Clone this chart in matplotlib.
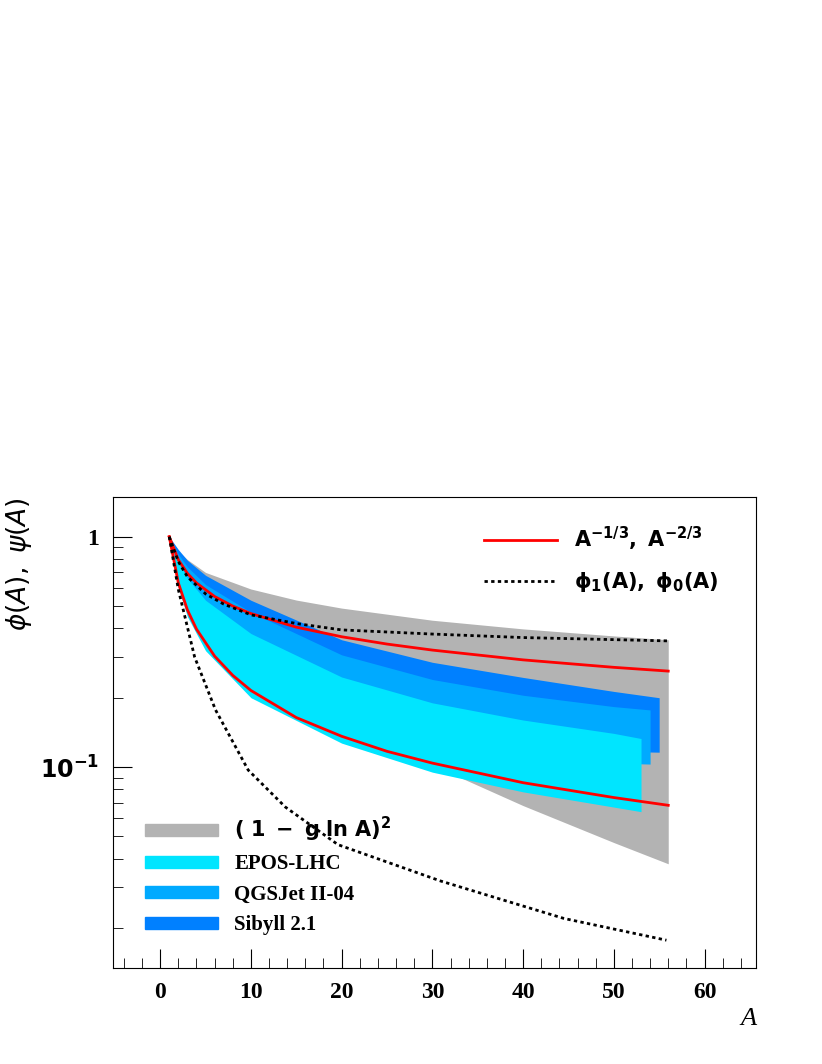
import numpy as np
import matplotlib
matplotlib.use("Agg")
import matplotlib.pyplot as plt
from matplotlib.patches import Patch
from matplotlib.lines import Line2D
from matplotlib.ticker import FixedLocator, NullFormatter, MultipleLocator

# ── data ────────────────────────────────────────────────────
A_pow = [1, 2, 3, 4, 6, 8, 10, 15, 20, 25, 30, 40, 50, 56]
a_m13 = [1, .794, .693, .630, .550, .5, .464, .405, .368, .342, .322, .292, .271, .261]
a_m23 = [1, .630, .481, .397, .303, .25, .215, .164, .136, .117, .104, .0855, .0737, .0682]

A_grey = [1, 2, 3, 5, 10, 15, 20, 30, 40, 50, 56]
grey_hi = [1, .865, .796, .70, .593, .531, .49, .434, .398, .371, .357]
grey_lo = [1, .74, .61, .46, .29, .21, .16, .102, .068, .047, .038]

A_epos = [1, 2, 3, 5, 10, 20, 30, 40, 50, 53]
epos_hi = [1, .78, .66, .53, .38, .246, .19, .16, .14, .133]
epos_lo = [1, .60, .45, .32, .20, .127, .095, .078, .067, .064]

A_qgs = [1, 2, 3, 5, 10, 20, 30, 40, 50, 54]
qgs_hi = [1, .84, .74, .62, .47, .307, .24, .205, .183, .177]
qgs_lo = [1, .62, .47, .34, .21, .14, .115, .107, .104, .103]

A_sib = [1, 2, 3, 5, 10, 20, 30, 40, 50, 55]
sib_hi = [1, .88, .79, .68, .53, .357, .285, .245, .213, .20]
sib_lo = [1, .63, .48, .35, .22, .15, .127, .12, .117, .116]

A_phi1 = [1, 2, 3, 5, 7, 10, 15, 20, 30, 40, 56]
phi1 = [1, .78, .67, .565, .51, .458, .42, .394, .378, .365, .353]

A_phi0 = [1, 2, 3.8, 6.1, 9.7, 13.8, 19.6, 30.9, 44.5, 55.8]
phi0 = [1, .59, .30, .177, .097, .067, .046, .032, .022, .0177]

plt.rcParams["font.family"] = "Liberation Serif"

fig = plt.figure(figsize=(8.22, 10.64), dpi=100)
ax = fig.add_axes([0.1375, 0.0902, 0.7825, 0.4428])

ax.fill_between(A_grey, grey_lo, grey_hi, color="#b3b3b3", lw=0)
ax.fill_between(A_sib, sib_lo, sib_hi, color="#0080ff", lw=0)
ax.fill_between(A_qgs, qgs_lo, qgs_hi, color="#00aaff", lw=0)
ax.fill_between(A_epos, epos_lo, epos_hi, color="#00e5ff", lw=0)

ax.plot(A_pow, a_m13, color="#ff0000", lw=2)
ax.plot(A_pow, a_m23, color="#ff0000", lw=2)
ax.plot(A_phi1, phi1, color="black", lw=2, ls=(0, (1.2, 1.2)))
ax.plot(A_phi0, phi0, color="black", lw=2, ls=(0, (1.2, 1.2)))

ax.set_yscale("log")
ax.set_xlim(-5.2, 65.7)
ax.set_ylim(0.0134, 1.49)

ax.xaxis.set_major_locator(MultipleLocator(10))
ax.xaxis.set_minor_locator(MultipleLocator(2))
ax.set_xticks([0, 10, 20, 30, 40, 50, 60])
ax.set_xticklabels(["0", "10", "20", "30", "40", "50", "60"], fontsize=17, fontweight="bold")
ax.set_yticks([1, 0.1])
ax.set_yticklabels(["1", r"$\mathbf{10^{-1}}$"], fontsize=17, fontweight="bold")
ax.yaxis.set_minor_formatter(NullFormatter())
ax.tick_params(which="both", direction="in", top=False, right=False)
ax.tick_params(which="major", length=14, pad=10)
ax.tick_params(which="minor", length=7)

ax.set_ylabel(r"$\phi(A),\ \psi(A)$", fontsize=19, loc="top")
ax.set_xlabel("A", fontsize=19, style="italic", loc="right")

lines = [Line2D([], [], color="#ff0000", lw=2),
         Line2D([], [], color="black", lw=2, ls=(0, (1.2, 1.2)))]
leg1 = ax.legend(lines, [r"$\mathbf{A^{-1/3},\ A^{-2/3}}$", r"$\mathbf{\phi_1(A),\ \phi_0(A)}$"],
                 loc="upper right", frameon=False, fontsize=15, handlelength=3.5,
                 bbox_to_anchor=(0.97, 0.98), labelspacing=0.8)
ax.add_artist(leg1)

patches = [Patch(color="#b3b3b3"), Patch(color="#00e5ff"),
           Patch(color="#00aaff"), Patch(color="#0080ff")]
ax.legend(patches, [r"$\mathbf{(\ 1\ -\ g\ ln\ A)^2}$", "EPOS-LHC", "QGSJet II-04", "Sibyll 2.1"],
          loc="lower left", frameon=False, prop={"size": 15, "weight": "bold"},
          handlelength=3.5, handleheight=0.5, bbox_to_anchor=(0.02, 0.03))

fig.savefig("out.png", dpi=100)
